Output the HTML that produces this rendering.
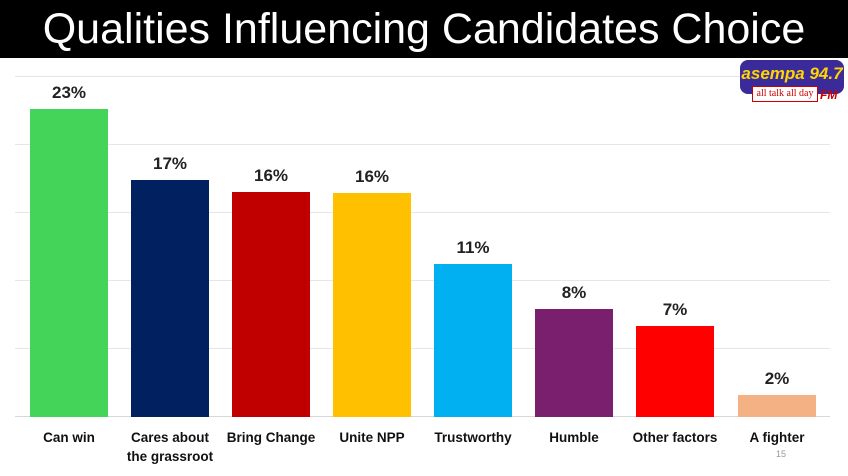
<!DOCTYPE html>
<html><head><style>
body{margin:0;width:848px;height:476px;background:#fff;position:relative;overflow:hidden;font-family:"Liberation Sans",sans-serif}
.t{position:absolute;left:0;top:0;width:848px;height:58px;background:#000;color:#fff;font-size:43px;text-align:center;line-height:58px;white-space:nowrap}
.g{position:absolute;left:15px;width:815px;height:1px;background:#e6e6e6}
.b{position:absolute;width:78px}
.v{position:absolute;width:78px;text-align:center;font-weight:bold;font-size:17px;color:#222}
.l{position:absolute;width:110px;text-align:center;font-weight:bold;font-size:13.5px;color:#111;line-height:19px}
</style></head><body>
<div class="t">Qualities Influencing Candidates Choice</div>
<div class="g" style="top:76px"></div><div class="g" style="top:144px"></div><div class="g" style="top:212px"></div><div class="g" style="top:280px"></div><div class="g" style="top:348px"></div><div class="g" style="top:416px;background:#d8d8d8"></div>
<div class="b" style="left:30px;top:109px;height:308px;background:#45d45a"></div><div class="v" style="left:30px;top:83px">23%</div>
<div class="b" style="left:131px;top:180px;height:237px;background:#00205f"></div><div class="v" style="left:131px;top:154px">17%</div>
<div class="b" style="left:232px;top:192px;height:225px;background:#c00000"></div><div class="v" style="left:232px;top:166px">16%</div>
<div class="b" style="left:333px;top:193px;height:224px;background:#ffc000"></div><div class="v" style="left:333px;top:167px">16%</div>
<div class="b" style="left:434px;top:264px;height:153px;background:#00b0f0"></div><div class="v" style="left:434px;top:238px">11%</div>
<div class="b" style="left:535px;top:309px;height:108px;background:#7a1f6e"></div><div class="v" style="left:535px;top:283px">8%</div>
<div class="b" style="left:636px;top:326px;height:91px;background:#ff0000"></div><div class="v" style="left:636px;top:300px">7%</div>
<div class="b" style="left:738px;top:395px;height:22px;background:#f4b183"></div><div class="v" style="left:738px;top:369px">2%</div>
<div class="l" style="left:14px;top:428px">Can win</div>
<div class="l" style="left:115px;top:428px">Cares about<br>the grassroot</div>
<div class="l" style="left:216px;top:428px">Bring Change</div>
<div class="l" style="left:317px;top:428px">Unite NPP</div>
<div class="l" style="left:418px;top:428px">Trustworthy</div>
<div class="l" style="left:519px;top:428px">Humble</div>
<div class="l" style="left:620px;top:428px">Other factors</div>
<div class="l" style="left:722px;top:428px">A fighter</div>
<div style="position:absolute;left:776px;top:449px;font-size:9px;color:#999">15</div>
<div style="position:absolute;left:740px;top:60px;width:104px;height:34px;background:#3b2a9a;border-radius:8px;color:#ffd400;font-weight:bold;font-style:italic;font-size:17px;text-align:center;line-height:28px;white-space:nowrap">asempa 94.7</div>
<div style="position:absolute;left:752px;top:86px;width:64px;height:14px;background:#fff;border:1px solid #c00;color:#c00;font-size:10px;text-align:center;line-height:14px;white-space:nowrap;font-family:'Liberation Serif',serif">all talk all day</div>
<div style="position:absolute;left:820px;top:88px;color:#c00;font-weight:bold;font-style:italic;font-size:12px">FM</div>
</body></html>
